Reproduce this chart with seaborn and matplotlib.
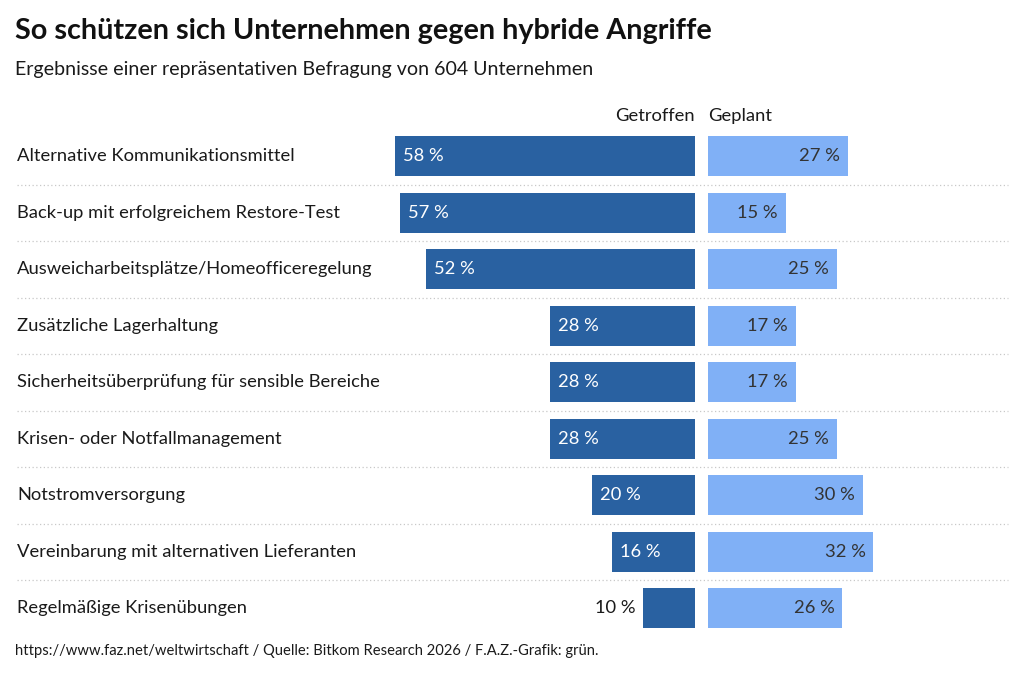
import matplotlib
matplotlib.use("Agg")
import matplotlib.pyplot as plt
import matplotlib.transforms as mtransforms
import pandas as pd
import seaborn as sns

# --- data ---
categories = [
    "Alternative Kommunikationsmittel",
    "Back-up mit erfolgreichem Restore-Test",
    "Ausweicharbeitsplätze/Homeofficeregelung",
    "Zusätzliche Lagerhaltung",
    "Sicherheitsüberprüfung für sensible Bereiche",
    "Krisen- oder Notfallmanagement",
    "Notstromversorgung",
    "Vereinbarung mit alternativen Lieferanten",
    "Regelmäßige Krisenübungen",
]
getroffen = [58, 57, 52, 28, 28, 28, 20, 16, 10]
geplant = [27, 15, 25, 17, 17, 25, 30, 32, 26]

title = "So schützen sich Unternehmen gegen hybride Angriffe"
subtitle = "Ergebnisse einer repräsentativen Befragung von 604 Unternehmen"
footer = "https://www.faz.net/weltwirtschaft / Quelle: Bitkom Research 2026 / F.A.Z.-Grafik: grün."

DARK = "#2961a1"
LIGHT = "#80b0f6"
TEXT = "#1a1a1a"

df = pd.DataFrame({"kategorie": categories, "getroffen": getroffen, "geplant": geplant})

sns.set_theme(style="white")
plt.rcParams["font.family"] = ["Lato", "DejaVu Sans"]

W, H = 1024, 677
fig = plt.figure(figsize=(W / 100, H / 100), dpi=100)

px_per_pct = 5.17
top_px, row_px = 128, 56.5
n = len(categories)
bottom = 1 - (top_px + n * row_px) / H
height = n * row_px / H

left_x0, left_x1 = 17, 695
right_x0, right_x1 = 708, 1008
ax_l = fig.add_axes([left_x0 / W, bottom, (left_x1 - left_x0) / W, height])
ax_r = fig.add_axes([right_x0 / W, bottom, (right_x1 - right_x0) / W, height])

sns.barplot(data=df, x="getroffen", y="kategorie", orient="h", color=DARK,
            width=0.71, saturation=1, linewidth=0, ax=ax_l)
sns.barplot(data=df, x="geplant", y="kategorie", orient="h", color=LIGHT,
            width=0.71, saturation=1, linewidth=0, ax=ax_r)

ax_l.set_xlim((left_x1 - left_x0) / px_per_pct, 0)
ax_r.set_xlim(0, (right_x1 - right_x0) / px_per_pct)
for ax in (ax_l, ax_r):
    ax.set_ylim(n - 0.5, -0.5)
    ax.set_axis_off()

fs = 13.25
pad_l = 8 / px_per_pct
trans_l = mtransforms.blended_transform_factory(ax_l.transAxes, ax_l.transData)
for i, (cat, g, p) in enumerate(zip(categories, getroffen, geplant)):
    ax_l.text(0, i, cat, transform=trans_l, ha="left", va="center",
              fontsize=fs, color=TEXT)
    if g >= 14:
        ax_l.text(g - pad_l, i, f"{g} %", ha="left", va="center",
                  fontsize=fs, color="white")
    else:
        ax_l.text(g + pad_l, i, f"{g} %", ha="right", va="center",
                  fontsize=fs, color=TEXT)
    ax_r.text(p - pad_l, i, f"{p} %", ha="right", va="center",
              fontsize=fs, color="#333333")

# dotted separators
span = (right_x1 - left_x0) / (left_x1 - left_x0)
for i in range(n - 1):
    ax_l.axhline(i + 0.5, xmin=0, xmax=span, color="#c8c8c8", lw=0.9,
                 ls=(0, (1, 2)), clip_on=False)

# column headers
fig.text(left_x1 / W, 1 - 116 / H, "Getroffen", ha="right", va="center",
         fontsize=fs, color=TEXT)
fig.text(right_x0 / W, 1 - 116 / H, "Geplant", ha="left", va="center",
         fontsize=fs, color=TEXT)

fig.text(15 / W, 1 - 31 / H, title, ha="left", va="center",
         fontsize=20.7, fontweight="bold", color="#111111")
fig.text(15 / W, 1 - 70 / H, subtitle, ha="left", va="center",
         fontsize=14.1, color=TEXT)
fig.text(15 / W, 1 - 651 / H, footer, ha="left", va="center",
         fontsize=10.6, color=TEXT)

fig.savefig("out.png", dpi=100, facecolor="white")
